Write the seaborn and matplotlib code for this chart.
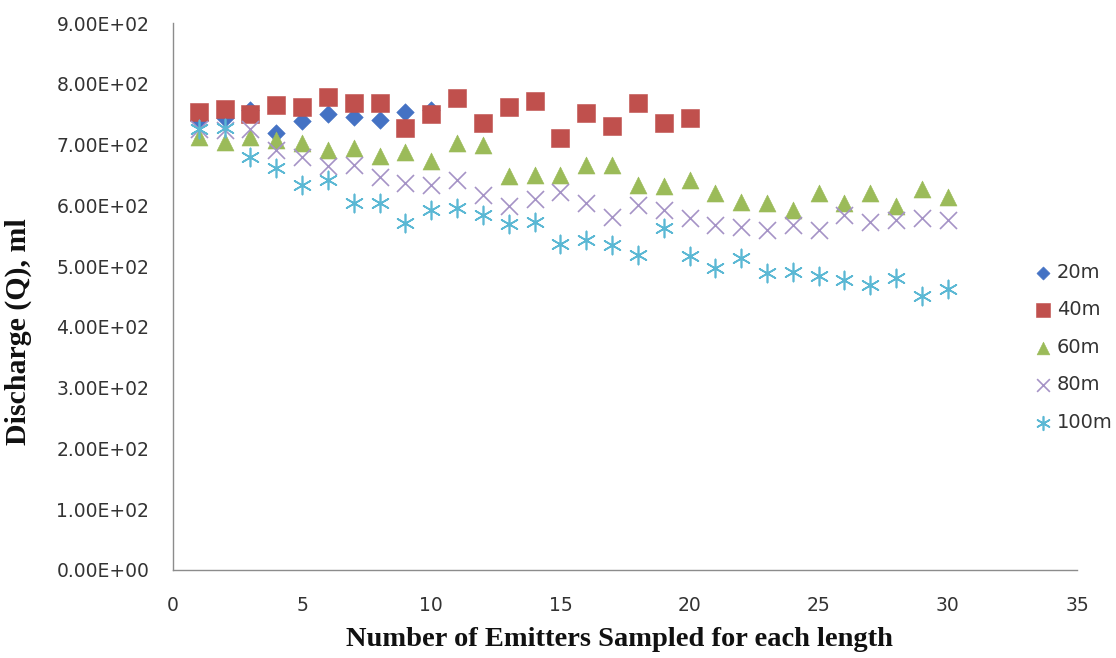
import matplotlib
matplotlib.use("Agg")
import matplotlib.pyplot as plt
from matplotlib.ticker import FuncFormatter, MultipleLocator
import seaborn as sns
import pandas as pd

# ---- data ----
series_names = ["20m", "40m", "60m", "80m", "100m"]

x_20m = list(range(1, 11))
q_20m = [741, 743, 757, 719, 739, 751, 746, 740, 754, 757]

x_40m = list(range(1, 21))
q_40m = [754, 758, 750, 765, 762, 778, 769, 768, 728, 751,
         776, 736, 761, 772, 710, 752, 731, 768, 736, 743]

x_60m = list(range(1, 31))
q_60m = [712, 705, 712, 707, 702, 691, 694, 681, 687, 673,
         702, 699, 648, 650, 650, 666, 666, 633, 631, 641,
         620, 606, 603, 592, 620, 603, 620, 599, 626, 613]

x_80m = list(range(1, 31))
q_80m = [725, 724, 725, 691, 680, 664, 666, 647, 636, 633,
         642, 617, 599, 611, 622, 603, 581, 601, 592, 579,
         568, 565, 559, 568, 559, 584, 573, 576, 579, 576]

x_100m = list(range(1, 31))
q_100m = [725, 727, 680, 661, 633, 642, 603, 603, 571, 592,
          595, 584, 570, 573, 537, 543, 535, 518, 562, 516,
          496, 513, 488, 491, 483, 477, 469, 480, 450, 463]

xs = [x_20m, x_40m, x_60m, x_80m, x_100m]
qs = [q_20m, q_40m, q_60m, q_80m, q_100m]

frames = [pd.DataFrame({"n": x, "Q": q, "series": name})
          for name, x, q in zip(series_names, xs, qs)]
df = pd.concat(frames, ignore_index=True)

# ---- styles ----
colors = {"20m": "#4472C4", "40m": "#C0504D", "60m": "#9BBB59",
          "80m": "#A593C6", "100m": "#5BB8D4"}
markers = {"20m": "D", "40m": "s", "60m": "^", "80m": "x", "100m": (6, 2, 0)}
sizes = {"20m": 80, "40m": 170, "60m": 150, "80m": 150, "100m": 170}
filled = {"20m": True, "40m": True, "60m": True, "80m": False, "100m": False}

sns.set_style("white")
plt.rcParams["font.family"] = ["DejaVu Sans"]

fig = plt.figure(figsize=(11.16, 6.58), dpi=100)
ax = fig.add_axes([0.155, 0.134, 0.81, 0.831])

for name in series_names:
    sub = df[df["series"] == name]
    if filled[name]:
        sns.scatterplot(data=sub, x="n", y="Q", ax=ax, color=colors[name],
                        marker=markers[name], s=sizes[name], linewidth=0.4,
                        edgecolor=colors[name], label=name, zorder=3)
    else:
        sns.scatterplot(data=sub, x="n", y="Q", ax=ax, color=colors[name],
                        marker=markers[name], s=sizes[name], linewidth=1.2,
                        label=name, zorder=3)

ax.set_xlim(0, 35)
ax.set_ylim(0, 900)
ax.xaxis.set_major_locator(MultipleLocator(5))
ax.yaxis.set_major_locator(MultipleLocator(100))
ax.yaxis.set_major_formatter(FuncFormatter(lambda v, p: f"{v:.2E}"))

for side in ["top", "right"]:
    ax.spines[side].set_visible(False)
for side in ["left", "bottom"]:
    ax.spines[side].set_color("#8c8c8c")
    ax.spines[side].set_linewidth(1.0)

ax.tick_params(axis="both", which="major", direction="out", length=5,
               color="#8c8c8c", labelsize=13.5, labelcolor="#333333")
ax.tick_params(axis="x", pad=14)
ax.tick_params(axis="y", pad=12)

ax.set_xlabel("Number of Emitters Sampled for each length",
              family="Liberation Serif", fontweight="bold", fontsize=20.5,
              color="#111111", labelpad=9)
ax.xaxis.set_label_coords(0.494, -0.104)
ax.set_ylabel("Discharge (Q), ml", family="Liberation Serif",
              fontweight="bold", fontsize=21.5, color="#111111")
ax.yaxis.set_label_coords(-0.156, 0.435)

leg = ax.legend(loc="upper left", bbox_to_anchor=(1022 / 1116, 1 - 255 / 658),
                bbox_transform=fig.transFigure, frameon=False, fontsize=14,
                labelspacing=0.95, handletextpad=0.0, handlelength=1.4,
                borderaxespad=0, markerscale=0.75)
for t in leg.get_texts():
    t.set_color("#333333")

fig.savefig("out.png", dpi=100)
